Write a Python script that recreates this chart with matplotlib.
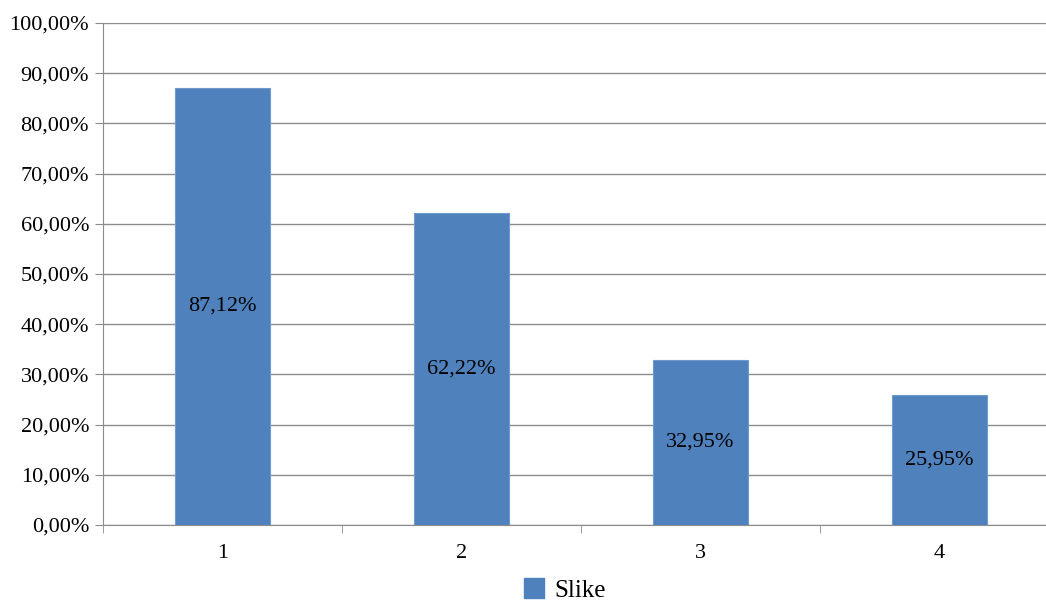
import matplotlib
matplotlib.use("Agg")
import matplotlib.pyplot as plt
from matplotlib.patches import Patch
from matplotlib.ticker import FixedLocator, NullFormatter

# data
categories = ["1", "2", "3", "4"]
values = [87.12, 62.22, 32.95, 25.95]
bar_labels = ["87,12%", "62,22%", "32,95%", "25,95%"]
y_ticks = [0, 10, 20, 30, 40, 50, 60, 70, 80, 90, 100]
y_tick_labels = ["%d,00%%" % t for t in y_ticks]

plt.rcParams["font.family"] = ["Liberation Serif", "DejaVu Serif"]

bar_color = "#4F81BD"
grid_color = "#8C8C8C"

fig = plt.figure(figsize=(10.46, 6.03), dpi=100)
ax = fig.add_axes([103 / 1046, 1 - 525 / 603, 956 / 1046, 502 / 603])

x = list(range(len(categories)))
bars = ax.bar(x, values, width=0.4, color=bar_color, edgecolor="#6F9AD0",
              linewidth=0.8, zorder=3)

for xi, v, lab in zip(x, values, bar_labels):
    ax.text(xi, v / 2, lab, ha="center", va="center", fontsize=16, color="black", zorder=4)

ax.set_xlim(-0.5, len(categories) - 0.5)
ax.set_ylim(0, 100)
ax.set_yticks(y_ticks)
ax.set_yticklabels(y_tick_labels, fontsize=16)
ax.set_xticks(x)
ax.set_xticklabels(categories, fontsize=16)
ax.tick_params(axis="x", length=0, pad=14)
ax.tick_params(axis="y", length=6, color=grid_color, pad=4)
ax.xaxis.set_minor_locator(FixedLocator([i - 0.5 for i in range(len(categories) + 1)]))
ax.xaxis.set_minor_formatter(NullFormatter())
ax.tick_params(axis="x", which="minor", length=6, color=grid_color, direction="out")

ax.grid(axis="y", color=grid_color, linewidth=1, zorder=0)
for side in ["top", "right"]:
    ax.spines[side].set_visible(False)
ax.spines["left"].set_color(grid_color)
ax.spines["bottom"].set_color(grid_color)

handle = Patch(facecolor=bar_color, edgecolor=bar_color)
fig.legend([handle], ["Slike"], loc="center", bbox_to_anchor=(565 / 1046, 1 - 590 / 603),
           frameon=False, fontsize=18, handlelength=0.8, handleheight=0.8, handletextpad=0.4,
           borderpad=0.1)

fig.savefig("out.png", dpi=100)
